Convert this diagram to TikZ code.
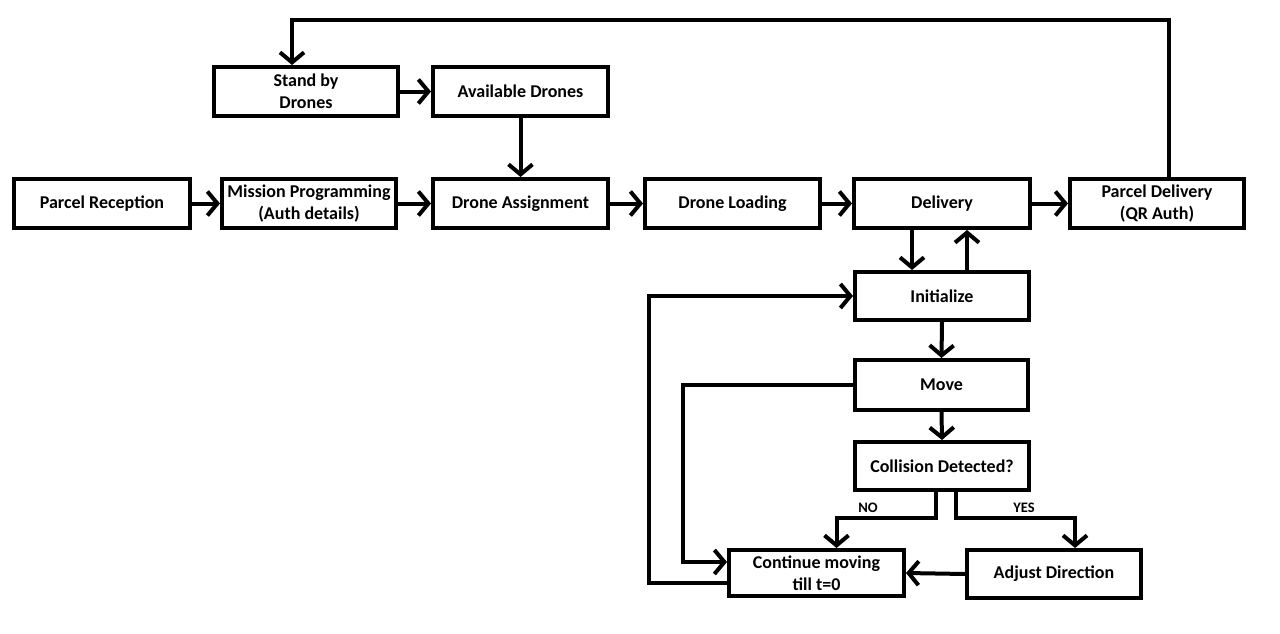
\documentclass[tikz,border=0pt]{standalone}
\usepackage{fontspec}
\setmainfont{Carlito}
\usetikzlibrary{arrows.meta}
\begin{document}
\begin{tikzpicture}[x=1pt,y=-1pt,
  box/.style={draw, line width=4pt, fill=white, font=\fontsize{18}{21.5}\selectfont\bfseries, align=center, inner sep=0pt},
  conn/.style={line width=4pt, -{Straight Barb[length=10pt,width=24pt]}},
  lbl/.style={font=\fontsize{14.5}{16}\selectfont\bfseries, inner sep=0pt}]
\useasboundingbox (0,0) rectangle (1280,634);
% nodes
\node[box, minimum width=184pt, minimum height=49pt] (standby) at (306,91.5) {Stand by\\Drones};
\node[box, minimum width=175pt, minimum height=49pt] (avail) at (520.5,91.5) {Available Drones};
\node[box, minimum width=176pt, minimum height=49pt] (parcelrec) at (102,203.5) {Parcel Reception};
\node[box, minimum width=174pt, minimum height=49pt] (mission) at (309,203.5) {Mission Programming\\(Auth details)};
\node[box, minimum width=175pt, minimum height=49pt] (assign) at (520.5,203.5) {Drone Assignment};
\node[box, minimum width=175pt, minimum height=49pt] (loading) at (732.5,203.5) {Drone Loading};
\node[box, minimum width=176pt, minimum height=49pt] (delivery) at (942,203.5) {Delivery};
\node[box, minimum width=174pt, minimum height=49pt] (pdeliv) at (1157,203.5) {Parcel Delivery\\(QR Auth)};
\node[box, minimum width=174pt, minimum height=48pt] (init) at (942,296) {Initialize};
\node[box, minimum width=173pt, minimum height=50pt] (move) at (941.5,385) {Move};
\node[box, minimum width=174pt, minimum height=48pt] (coll) at (942,466) {Collision Detected?};
\node[box, minimum width=175pt, minimum height=46pt] (cont) at (816.5,573) {Continue moving\\till t=0};
\node[box, minimum width=174pt, minimum height=48pt] (adjust) at (1054,574) {Adjust Direction};
\node[lbl] (nolbl) at (868,508) {NO};
\node[lbl] (yeslbl) at (1024,508) {YES};
% helper coordinates
\coordinate (topy) at (0,20);
\coordinate (pdup) at ([xshift=12pt]pdeliv.north);
\coordinate (sbin) at ([xshift=-14pt]standby.north);
\coordinate (brY) at (0,518);
\coordinate (noS) at ([xshift=-6pt]coll.south);
\coordinate (noE) at ([xshift=20pt]cont.north);
\coordinate (yesS) at ([xshift=14pt]coll.south);
\coordinate (yesE) at ([xshift=21pt]adjust.north);
\coordinate (mvX) at (683,0);
\coordinate (lpX) at (649,0);
\coordinate (contIn) at ([yshift=11pt]cont.west);
\coordinate (contOut) at ([yshift=-10pt]cont.west);
% connectors
\draw[conn] (pdup) -- (pdup |- topy) -| (sbin);
\draw[conn] (standby.east) -- (avail.west);
\draw[conn] (avail.south) -- (assign.north);
\draw[conn] (parcelrec.east) -- (mission.west);
\draw[conn] (mission.east) -- (assign.west);
\draw[conn] (assign.east) -- (loading.west);
\draw[conn] (loading.east) -- (delivery.west);
\draw[conn] (delivery.east) -- (pdeliv.west);
\draw[conn] ([xshift=-30pt]delivery.south) -- ([xshift=-30pt]init.north);
\draw[conn] ([xshift=25pt]init.north) -- ([xshift=25pt]delivery.south);
\draw[conn] (init.south) -- (move.north);
\draw[conn] (move.south) -- (coll.north);
\draw[conn] (noS) -- (noS |- brY) -| (noE);
\draw[conn] (yesS) -- (yesS |- brY) -| (yesE);
\draw[conn] (adjust.west) -- (cont.east);
\draw[conn] (move.west) -- (move.west -| mvX) |- (contIn);
\draw[conn] (contOut) -- (contOut -| lpX) |- (init.west);
\end{tikzpicture}
\end{document}
